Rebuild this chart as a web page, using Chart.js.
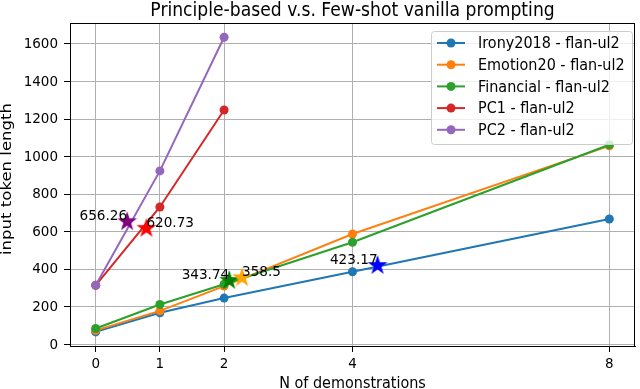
<!DOCTYPE html>
<html>
<head>
<meta charset="utf-8">
<script src="https://cdn.jsdelivr.net/npm/chart.js@4.4.1/dist/chart.umd.min.js"></script>
<style>
  html, body { margin: 0; padding: 0; background: #ffffff; }
  #wrap { width: 640px; height: 389px; }
</style>
</head>
<body>
<div id="wrap"><canvas id="chart" width="640" height="389"></canvas></div>
<script>
// Data
const shots = [0, 1, 2, 4, 8];
const irony = [67, 169, 247, 387, 668];
const emotion = [75, 179, 311, 588, 1057];
const financial = [85, 213, 321, 544, 1063];
const pc1 = [315, 732, 1248];
const pc2 = [315, 924, 1635];
const seriesNames = ["Irony2018 - flan-ul2", "Emotion20 - flan-ul2", "Financial - flan-ul2", "PC1 - flan-ul2", "PC2 - flan-ul2"];

// principle-based points (stars)
const starX = [4.39, 2.28, 2.08, 0.79, 0.49];
const starY = [423.17, 358.5, 343.74, 620.73, 656.26];
const starText = ["423.17", "358.5", "343.74", "620.73", "656.26"];
const starAlign = ["right", "left", "right", "left", "right"];

const xTicks = [0, 1, 2, 4, 8];
const yTicks = [0, 200, 400, 600, 800, 1000, 1200, 1400, 1600];

const lineColors = ["#1f77b4", "#ff7f0e", "#2ca02c", "#d62728", "#9467bd"];
const starColors = ["blue", "orange", "green", "red", "purple"];
const FONT = "'DejaVu Sans', sans-serif";

// Filled five point star as a point style image
function makeStar(color) {
  const c = document.createElement("canvas");
  c.width = 24;
  c.height = 24;
  const g = c.getContext("2d");
  const R = 10.5, r = R * 0.382;
  g.beginPath();
  for (let i = 0; i < 10; i++) {
    const rad = i % 2 === 0 ? R : r;
    const a = -Math.PI / 2 + i * Math.PI / 5;
    const px = 12 + rad * Math.cos(a);
    const py = 12.5 + rad * Math.sin(a);
    if (i === 0) g.moveTo(px, py); else g.lineTo(px, py);
  }
  g.closePath();
  g.fillStyle = color;
  g.fill();
  return c;
}

function pairs(xs, ys) {
  return ys.map((y, i) => ({ x: xs[i], y: y }));
}

// text helper, the reference is a bit stretched vertically
function txt(ctx, s, x, y, size, align, baseline, sx, sy, rot) {
  ctx.save();
  ctx.translate(x, y);
  if (rot) ctx.rotate(rot);
  ctx.scale(sx || 1, sy || 1);
  ctx.font = size + "px " + FONT;
  ctx.textAlign = align;
  ctx.textBaseline = baseline;
  ctx.fillStyle = "#000";
  ctx.fillText(s, 0, 0);
  ctx.restore();
}

const seriesValues = [irony, emotion, financial, pc1, pc2];

const datasets = seriesValues.map((vals, i) => ({
  type: "line",
  label: seriesNames[i],
  data: pairs(shots, vals),
  borderColor: lineColors[i],
  backgroundColor: lineColors[i],
  borderWidth: 2,
  pointRadius: 4.5,
  pointBorderWidth: 0,
  pointHoverRadius: 4.5,
  tension: 0,
  order: 10 - i
}));

starX.forEach((sx, i) => {
  datasets.push({
    type: "scatter",
    label: "star" + i,
    data: [{ x: sx, y: starY[i] }],
    pointStyle: makeStar(starColors[i]),
    order: 1
  });
});

// Title, frame, tick labels, star labels and legend
const decorations = {
  id: "decorations",
  afterDraw(chart) {
    const ctx = chart.ctx;
    const area = chart.chartArea;
    const xs = chart.scales.x;
    const ys = chart.scales.y;

    ctx.save();
    // frame
    ctx.strokeStyle = "#000";
    ctx.lineWidth = 1;
    ctx.strokeRect(Math.round(area.left) + 0.5, Math.round(area.top) + 0.5,
      Math.round(area.right - area.left) - 1, Math.round(area.bottom - area.top));
    ctx.restore();

    // title
    txt(ctx, "Principle-based v.s. Few-shot vanilla prompting", (area.left + area.right) / 2, 15.5, 17.2, "center", "alphabetic", 1, 1.08);

    // tick labels
    yTicks.forEach((v) => {
      txt(ctx, String(v), 58, ys.getPixelForValue(v) + 0.5, 13.5, "right", "middle", 1, 1.03);
    });
    xTicks.forEach((v) => {
      txt(ctx, String(v), xs.getPixelForValue(v), 367.5, 13.5, "center", "alphabetic", 1, 1.03);
    });

    // axis titles
    txt(ctx, "N of demonstrations", (area.left + area.right) / 2, 388, 14.4, "center", "alphabetic", 1, 1.1);
    txt(ctx, "input token length", 11, 179, 14.4, "center", "alphabetic", 1.15, 1, -Math.PI / 2);

    // star labels
    starX.forEach((sx, i) => {
      txt(ctx, starText[i], xs.getPixelForValue(sx), ys.getPixelForValue(starY[i]) - 1, 13.6, starAlign[i], "alphabetic", 1, 1.08);
    });

    // legend
    ctx.save();
    const lx = 431, ly = 31, lw = 201, lh = 113;
    ctx.beginPath();
    ctx.roundRect(lx + 0.5, ly + 0.5, lw, lh, 3);
    ctx.fillStyle = "rgba(255,255,255,0.8)";
    ctx.fill();
    ctx.strokeStyle = "#cccccc";
    ctx.lineWidth = 1;
    ctx.stroke();
    seriesNames.forEach((name, i) => {
      const cy = 43 + i * 21.7;
      ctx.strokeStyle = lineColors[i];
      ctx.lineWidth = 2;
      ctx.beginPath();
      ctx.moveTo(437, cy);
      ctx.lineTo(465, cy);
      ctx.stroke();
      ctx.fillStyle = lineColors[i];
      ctx.beginPath();
      ctx.arc(451, cy, 4.5, 0, Math.PI * 2);
      ctx.fill();
      txt(ctx, name, 478, cy + 1, 14.4, "left", "middle", 1, 1.1);
    });
    ctx.restore();
  }
};

new Chart(document.getElementById("chart"), {
  data: { datasets: datasets },
  options: {
    responsive: false,
    animation: false,
    layout: { padding: { top: 23, right: 2, left: 0, bottom: 0 } },
    plugins: {
      legend: { display: false },
      title: { display: false },
      tooltip: { enabled: false }
    },
    scales: {
      x: {
        type: "linear",
        min: -0.4,
        max: 8.4,
        afterBuildTicks: (scale) => { scale.ticks = xTicks.map((v) => ({ value: v })); },
        afterFit: (scale) => { scale.height = 43; },
        ticks: { display: false },
        grid: { color: "#b0b0b0", lineWidth: 1, tickLength: 6, tickColor: "#000", drawTicks: true },
        border: { display: true, color: "#000", width: 1 }
      },
      y: {
        type: "linear",
        min: -8,
        max: 1711,
        afterBuildTicks: (scale) => { scale.ticks = yTicks.map((v) => ({ value: v })); },
        afterFit: (scale) => { scale.width = 70; },
        ticks: { display: false },
        grid: { color: "#b0b0b0", lineWidth: 1, tickLength: 6, tickColor: "#000", drawTicks: true },
        border: { display: true, color: "#000", width: 1 }
      }
    }
  },
  plugins: [decorations]
});
</script>
</body>
</html>
